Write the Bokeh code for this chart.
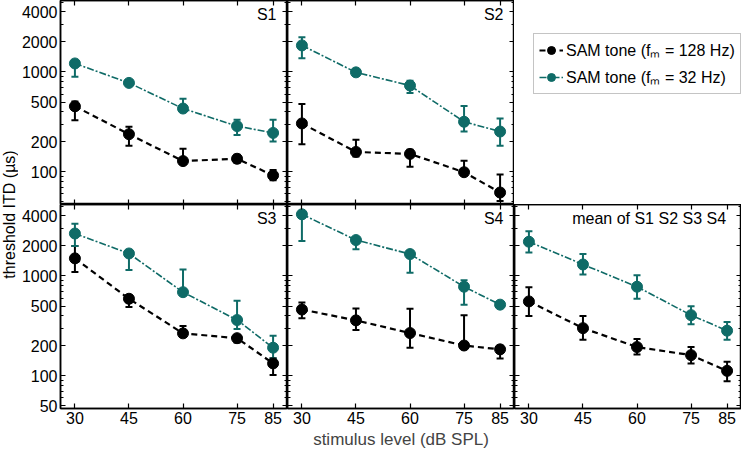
import math
from bokeh.plotting import figure
from bokeh.models import (ColumnDataSource, Whisker, TeeHead, FixedTicker, LogAxis,
                          LinearAxis, Label, Legend, LegendItem, Range1d,
                          PrintfTickFormatter, CustomJSTickFormatter)
from bokeh.layouts import row, column
from bokeh.embed import file_html
from bokeh.resources import INLINE

# ---------------- data ----------------
levels = [30, 45, 60, 75, 85]                      # stimulus level (dB SPL)
x_ticks = [30, 45, 60, 75, 85]
y_ticks_top = [100, 200, 500, 1000, 2000, 4000]
y_ticks_bottom = [50, 100, 200, 500, 1000, 2000, 4000]
series_names = ["SAM tone (f\u2098 = 128 Hz)", "SAM tone (f\u2098 = 32 Hz)"]
panel_labels = ["S1", "S2", "S3", "S4", "mean of  S1 S2 S3 S4"]

# threshold ITD (us); fm = 128 Hz (black) and fm = 32 Hz (teal)
s1_fm128 = [453, 238, 128, 135, 92]
s1_fm128_hi = [507, 283, 170, 148, 104]
s1_fm128_lo = [329, 182, 120, 123, 82]
s1_fm32 = [1217, 777, 430, 287, 245]
s1_fm32_hi = [1300, 810, 540, 332, 332]
s1_fm32_lo = [898, 745, 400, 234, 201]

s2_fm128 = [305, 158, 151, 99, 62]
s2_fm128_hi = [478, 209, 166, 129, 94]
s2_fm128_lo = [189, 142, 112, 92, 51]
s2_fm32 = [1845, 991, 731, 317, 253]
s2_fm32_hi = [2230, 1030, 818, 457, 342]
s2_fm32_lo = [1372, 950, 614, 253, 182]

s3_fm128 = [1501, 591, 266, 238, 133]
s3_fm128_hi = [2000, 640, 316, 255, 150]
s3_fm128_lo = [1095, 490, 250, 215, 102]
s3_fm32 = [2663, 1680, 688, 362, 191]
s3_fm32_hi = [3339, 1800, 1163, 565, 252]
s3_fm32_lo = [2000, 1145, 640, 294, 149]

s4_fm128 = [461, 359, 268, 201, 184]
s4_fm128_hi = [543, 472, 469, 405, 200]
s4_fm128_lo = [376, 287, 191, 190, 149]
s4_fm32 = [4147, 2290, 1658, 780, 516]
s4_fm32_hi = [4400, 2400, 1787, 907, 540]
s4_fm32_lo = [2239, 1856, 1080, 516, 495]

mean_fm128 = [556, 300, 194, 161, 112]
mean_fm128_hi = [769, 396, 234, 194, 138]
mean_fm128_lo = [396, 229, 163, 133, 88]
mean_fm32 = [2204, 1303, 780, 405, 283]
mean_fm32_hi = [2806, 1658, 1016, 497, 346]
mean_fm32_lo = [1718, 1032, 591, 329, 229]

panels = [
    (0, 0, panel_labels[0], (s1_fm128, s1_fm128_hi, s1_fm128_lo), (s1_fm32, s1_fm32_hi, s1_fm32_lo)),
    (0, 1, panel_labels[1], (s2_fm128, s2_fm128_hi, s2_fm128_lo), (s2_fm32, s2_fm32_hi, s2_fm32_lo)),
    (1, 0, panel_labels[2], (s3_fm128, s3_fm128_hi, s3_fm128_lo), (s3_fm32, s3_fm32_hi, s3_fm32_lo)),
    (1, 1, panel_labels[3], (s4_fm128, s4_fm128_hi, s4_fm128_lo), (s4_fm32, s4_fm32_hi, s4_fm32_lo)),
    (1, 2, panel_labels[4], (mean_fm128, mean_fm128_hi, mean_fm128_lo), (mean_fm32, mean_fm32_hi, mean_fm32_lo)),
]

# ---------------- style ----------------
FONT = "Liberation Sans"
BLACK = "#000000"
TEAL = "#0f6b67"
FW, FH = 227, 204
LEFT, BOTTOM, YLAB_W = 40, 44, 18
X_RANGE = (26, 89)
Y_RANGE = (47, 5200)
styles = [
    dict(color=BLACK, dash="6 4", width=2.2),
    dict(color=TEAL, dash="7 2 2 2", width=1.6),
]
minor = [k * 10 ** n for n in (1, 2, 3) for k in range(1, 10)
         if Y_RANGE[0] <= k * 10 ** n <= Y_RANGE[1]]


def style_axis(ax, show_labels):
    ax.axis_line_color = "black"
    ax.axis_line_width = 1.5
    ax.major_tick_line_color = "black"
    ax.major_tick_line_width = 1.2
    ax.major_tick_in = 5
    ax.major_tick_out = 0
    ax.minor_tick_line_color = "black"
    ax.minor_tick_line_width = 1
    ax.minor_tick_in = 3
    ax.minor_tick_out = 0
    ax.major_label_text_font = FONT
    ax.major_label_text_color = "black"
    if show_labels:
        ax.major_label_text_font_size = "16px"
        ax.major_label_standoff = 3
    else:
        ax.major_label_text_font_size = "0px"
        ax.major_label_standoff = 0
        ax.formatter = CustomJSTickFormatter(code="return ''")


def make_panel(r, c, label, d128, d32):
    yt = y_ticks_top if r == 0 else y_ticks_bottom
    p = figure(frame_width=FW, frame_height=FH,
               x_range=Range1d(*X_RANGE), y_range=Range1d(*Y_RANGE),
               y_axis_type="log", output_backend="svg", toolbar_location=None,
               min_border_left=LEFT if c == 0 else 0, min_border_right=0,
               min_border_top=0, min_border_bottom=BOTTOM if r == 1 else 0)
    p.grid.visible = False
    p.outline_line_color = "black"
    p.outline_line_width = 1.5
    p.background_fill_color = "white"
    p.border_fill_color = "white"
    p.add_layout(LogAxis(), "right")
    p.add_layout(LinearAxis(), "above")
    for ax in p.left + p.right:
        ax.ticker = FixedTicker(ticks=yt, minor_ticks=minor)
        ax.formatter = PrintfTickFormatter(format="%d")
    for ax in p.below + p.above:
        ax.ticker = FixedTicker(ticks=x_ticks, minor_ticks=[])
    style_axis(p.left[0], c == 0)
    style_axis(p.right[0], False)
    style_axis(p.above[0], False)
    style_axis(p.below[0], r == 1)
    if r == 1 and c == 1:
        ax = p.below[0]
        ax.axis_label = "stimulus level (dB SPL)"
        ax.axis_label_text_font = FONT
        ax.axis_label_text_font_size = "17px"
        ax.axis_label_text_font_style = "normal"
        ax.axis_label_standoff = 3

    for (vals, hi, lo), st in zip((d128, d32), styles):
        src = ColumnDataSource(dict(x=levels, y=vals, hi=hi, lo=lo))
        p.line("x", "y", source=src, line_color=st["color"],
               line_dash=st["dash"], line_width=st["width"])
        p.add_layout(Whisker(base="x", upper="hi", lower="lo", source=src,
                             line_color=st["color"], line_width=2,
                             upper_head=TeeHead(size=7, line_color=st["color"], line_width=2),
                             lower_head=TeeHead(size=7, line_color=st["color"], line_width=2)))
        p.scatter("x", "y", source=src, size=11, fill_color=st["color"],
                  line_color=st["color"])

    p.add_layout(Label(x=FW - 11, y=FH - 14, x_units="screen", y_units="screen",
                       text=label, text_align="right", text_baseline="middle",
                       text_font=FONT, text_font_size="16px", text_color="black"))
    return p


figs = {}
for r, c, label, d128, d32 in panels:
    figs[(r, c)] = make_panel(r, c, label, d128, d32)

# legend cell (top right); one undrawn placeholder point per key glyph
leg = figure(frame_width=FW, frame_height=FH, x_axis_type=None, y_axis_type=None,
             output_backend="svg", toolbar_location=None,
             min_border_left=0, min_border_right=0, min_border_top=0, min_border_bottom=0)
leg.outline_line_color = None
leg.grid.visible = False
items = []
for name, st in zip(series_names, styles):
    key_src = ColumnDataSource(dict(x=[float("nan")], y=[float("nan")]))
    ln = leg.line("x", "y", source=key_src, line_color=st["color"],
                  line_dash=st["dash"], line_width=st["width"])
    sc = leg.scatter("x", "y", source=key_src, size=10, fill_color=st["color"],
                     line_color=st["color"])
    items.append(LegendItem(label=name, renderers=[ln, sc]))
legend = Legend(items=items, location=(19, FH - 94), label_text_font=FONT,
                label_text_font_size="16px", label_text_color="black",
                glyph_width=24, glyph_height=20, label_height=20, label_standoff=3,
                spacing=5, padding=5, margin=0,
                border_line_color="#8a8a8a", border_line_width=1,
                background_fill_color="white", background_fill_alpha=1.0)
leg.add_layout(legend)

# y-axis title cell (spans both rows)
ylab = figure(frame_width=YLAB_W, frame_height=2 * FH + BOTTOM, x_axis_type=None,
              y_axis_type=None, output_backend="svg", toolbar_location=None,
              min_border_left=0, min_border_right=0, min_border_top=0, min_border_bottom=0)
ylab.outline_line_color = None
ylab.grid.visible = False
ylab.add_layout(Label(x=YLAB_W / 2, y=BOTTOM + FH - 10, x_units="screen", y_units="screen",
                      text="threshold ITD (\u00b5s)", angle=math.pi / 2,
                      text_align="center", text_baseline="middle",
                      text_font=FONT, text_font_size="16px", text_color="black"))

grid = column(row(figs[(0, 0)], figs[(0, 1)], leg),
              row(figs[(1, 0)], figs[(1, 1)], figs[(1, 2)]))
layout = row(ylab, grid)

open("out.html", "w").write(file_html(layout, INLINE))
